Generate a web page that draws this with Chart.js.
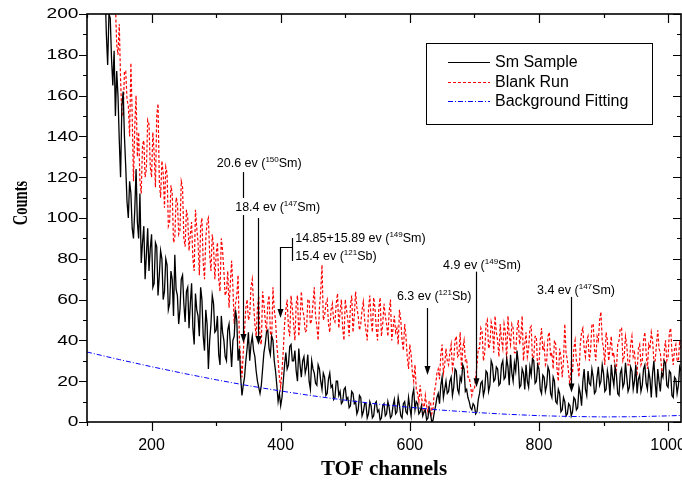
<!DOCTYPE html>
<html>
<head>
<meta charset="utf-8">
<script src="https://cdn.jsdelivr.net/npm/chart.js@4.4.1/dist/chart.umd.min.js"></script>
<style>
  html, body { margin: 0; padding: 0; background: #fff; }
</style>
</head>
<body>
<canvas id="tof-chart" width="682" height="488"></canvas>
<script>
const ctx = document.getElementById("tof-chart");

// spectra are listed every 2 TOF channels, starting at channel 100
const firstChannel = 100;
const channelStep = 2;

const smSample = [
  340, 335, 320, 315, 300, 290, 280, 270, 262, 250, 240, 232, 225, 205, 212, 190, 175, 200, 198, 178,
  165, 182, 150, 172, 160, 138, 120, 155, 162, 140, 125, 108, 100, 118, 112, 95, 90, 104, 124, 98,
  90, 112, 78, 88, 96, 70, 82, 95, 74, 85, 92, 66, 68, 88, 86, 62, 72, 84, 80, 60,
  64, 80, 77, 55, 58, 74, 70, 52, 82, 65, 62, 48, 55, 70, 72, 58, 49, 64, 66, 46,
  58, 68, 46, 38, 63, 55, 52, 42, 66, 60, 42, 35, 55, 48, 26, 40, 48, 62, 58, 44,
  45, 52, 33, 28, 52, 44, 40, 32, 30, 45, 48, 38, 27, 40, 42, 55, 50, 30, 36, 22,
  13, 18, 22, 30, 36, 44, 30, 38, 42, 35, 32, 25, 20, 17, 14, 18, 26, 34, 38, 44,
  45, 36, 33, 42, 40, 30, 25, 18, 10, 14, 8, 12, 20, 28, 34, 26, 28, 37, 38, 30,
  30, 35, 25, 20, 36, 28, 22, 30, 32, 24, 27, 33, 20, 16, 30, 26, 24, 19, 18, 28,
  26, 20, 16, 24, 22, 13, 14, 21, 24, 17, 18, 11, 12, 20, 20, 13, 15, 9, 10, 16,
  17, 11, 12, 7, 8, 15, 14, 9, 10, 4, 6, 13, 12, 3, 5, 9, 9, 2, 4, 10,
  8, 2, 3, 9, 10, 5, 6, 1, 2, 8, 9, 3, 4, 10, 7, 2, 3, 8, 11, 4,
  5, 12, 8, 3, 2, 9, 10, 5, 4, 12, 7, 3, 13, 16, 6, 10, 9, 4, 5, 8,
  3, 5, 6, 1, 2, 7, 4, 0, 1, 5, 8, 12, 14, 9, 18, 22, 12, 16, 20, 14,
  15, 20, 22, 13, 17, 26, 25, 16, 14, 22, 20, 28, 26, 15, 16, 12, 10, 7, 6, 9,
  8, 4, 5, 11, 14, 19, 20, 13, 16, 25, 24, 15, 18, 30, 28, 20, 21, 27, 26, 18,
  19, 28, 30, 21, 22, 31, 27, 18, 33, 24, 20, 29, 25, 35, 29, 17, 18, 26, 24, 16,
  28, 20, 17, 27, 23, 31, 30, 19, 20, 28, 26, 16, 14, 23, 22, 15, 18, 27, 25, 14,
  12, 22, 20, 10, 9, 16, 14, 5, 6, 12, 10, 3, 4, 9, 8, 3, 5, 12, 11, 6,
  7, 17, 14, 8, 20, 26, 16, 13, 25, 19, 18, 26, 22, 14, 15, 22, 27, 18, 20, 28,
  24, 15, 16, 25, 21, 13, 28, 22, 18, 27, 23, 14, 13, 24, 26, 17, 19, 29, 22, 15,
  17, 27, 25, 16, 20, 28, 14, 21, 23, 15, 18, 26, 28, 19, 16, 25, 21, 12, 24, 30,
  19, 12, 26, 20, 15, 24, 22, 30, 29, 18, 17, 25, 24, 13, 12, 22, 21, 14, 18, 27,
  25
];

const blankRun = [
  410, 400, 390, 380, 370, 360, 350, 340, 330, 320, 310, 300, 290, 285, 278, 270, 262, 255, 248, 240,
  230, 215, 205, 185, 180, 195, 168, 150, 150, 172, 172, 158, 155, 140, 176, 150, 118, 145, 160, 130,
  142, 118, 112, 136, 138, 120, 124, 148, 146, 125, 120, 142, 132, 115, 150, 156, 118, 110, 128, 122,
  105, 125, 122, 96, 98, 116, 112, 88, 90, 110, 108, 92, 94, 118, 115, 90, 86, 104, 100, 84,
  92, 98, 80, 74, 104, 95, 88, 72, 96, 100, 78, 70, 90, 98, 100, 82, 74, 92, 86, 70,
  82, 88, 70, 64, 90, 84, 74, 62, 64, 74, 56, 68, 79, 66, 48, 58, 62, 72, 40, 30,
  22, 34, 45, 56, 60, 50, 52, 66, 70, 58, 48, 42, 56, 62, 40, 38, 64, 58, 50, 44,
  58, 62, 44, 40, 66, 55, 50, 38, 30, 22, 17, 25, 35, 48, 55, 60, 46, 42, 62, 56,
  48, 40, 58, 62, 42, 50, 64, 55, 52, 44, 45, 60, 60, 48, 50, 58, 66, 52, 47, 40,
  56, 64, 77, 50, 52, 58, 60, 48, 44, 55, 58, 50, 49, 58, 63, 46, 54, 60, 46, 40,
  60, 55, 50, 42, 57, 62, 44, 52, 64, 56, 52, 45, 48, 55, 59, 50, 45, 40, 55, 62,
  50, 44, 61, 56, 46, 40, 56, 61, 42, 48, 58, 52, 48, 42, 54, 60, 40, 46, 52, 44,
  46, 38, 55, 50, 40, 35, 48, 42, 32, 26, 38, 33, 24, 20, 28, 16, 14, 10, 18, 12,
  9, 6, 13, 8, 5, 10, 10, 4, 7, 15, 18, 24, 26, 21, 33, 38, 24, 28, 36, 30,
  28, 34, 38, 26, 30, 40, 42, 32, 33, 44, 26, 36, 40, 30, 31, 22, 22, 18, 13, 16,
  16, 22, 28, 36, 36, 46, 44, 30, 34, 48, 50, 36, 38, 49, 46, 34, 52, 44, 40, 32,
  48, 40, 36, 48, 44, 30, 52, 42, 38, 48, 46, 34, 34, 45, 50, 38, 42, 52, 30, 38,
  44, 32, 36, 46, 47, 30, 32, 42, 42, 26, 28, 40, 46, 35, 38, 28, 30, 42, 44, 32,
  34, 26, 40, 38, 26, 20, 36, 32, 22, 30, 48, 34, 30, 24, 18, 28, 24, 36, 40, 30,
  28, 22, 38, 44, 46, 36, 32, 40, 42, 30, 35, 48, 48, 36, 30, 42, 40, 50, 54, 40,
  36, 28, 44, 40, 30, 36, 42, 32, 34, 24, 26, 38, 40, 46, 46, 30, 32, 42, 38, 28,
  28, 38, 42, 32, 34, 26, 24, 36, 38, 28, 30, 40, 44, 34, 26, 38, 36, 44, 40, 30,
  30, 38, 45, 36, 34, 26, 22, 34, 40, 30, 32, 44, 46, 34, 28, 36, 38, 30, 30, 40,
  36
];

// smooth background fit
const fitChannels = [100, 150, 200, 250, 300, 350, 400, 450, 500, 550, 600, 650, 700, 750, 800, 850, 900, 950, 1000, 1020];
const fitCounts = [34.3, 30.6, 27.1, 23.8, 20.7, 17.8, 15.2, 12.8, 10.7, 8.8, 7.2, 5.8, 4.7, 3.8, 3.1, 2.7, 2.5, 2.6, 3.0, 3.2];

const seriesNames = ["Sm Sample", "Blank Run", "Background Fitting"];
const xTicks = [200, 400, 600, 800, 1000];
const yTicks = [0, 20, 40, 60, 80, 100, 120, 140, 160, 180, 200];

// resonance dips: label text, line channel and the count range of its marker
const resonances = [
  { pre: "20.6 ev (", iso: "150", post: "Sm)", tx: 301, ty: 125, ch: 342, from: 122.5, to: 38.7, mask: false },
  { pre: "18.4 ev (", iso: "147", post: "Sm)", tx: 329.5, ty: 103.4, ch: 365, from: 100, to: 37.7, mask: true },
  { pre: "6.3 ev (", iso: "121", post: "Sb)", tx: 580, ty: 59.8, ch: 627, from: 55.9, to: 23 },
  { pre: "4.9 ev (", iso: "149", post: "Sm)", tx: 651.5, ty: 75, ch: 703, from: 73.7, to: 17 },
  { pre: "3.4 ev (", iso: "147", post: "Sm)", tx: 797, ty: 62.7, ch: 849, from: 61.3, to: 14.4 }
];
// two overlapping dips near channel 400 share one bracketed marker
const bracketLabels = [
  { pre: "14.85+15.89 ev (", iso: "149", post: "Sm)", tx: 422.5, ty: 88.4 },
  { pre: "15.4 ev (", iso: "121", post: "Sb)", tx: 422.5, ty: 79.4 }
];
const bracket = { ch: 399, barCh: 418, top: 90.2, bottom: 78.9, join: 85.8, to: 51 };

const channelsFor = (counts) => counts.map((_, i) => firstChannel + i * channelStep);
const toPoints = (xs, ys) => xs.map((x, i) => ({ x: x, y: ys[i] }));

const sans = '"Liberation Sans", Arial, sans-serif';
const serif = '"Liberation Serif", "Times New Roman", serif';

function drawIsotopeLabel(c, lab, x, y) {
  c.font = "12.5px " + sans;
  c.textAlign = "left";
  c.textBaseline = "alphabetic";
  c.fillText(lab.pre, x, y);
  let px = x + c.measureText(lab.pre).width;
  c.font = "8px " + sans;
  c.fillText(lab.iso, px, y - 5);
  px += c.measureText(lab.iso).width;
  c.font = "12.5px " + sans;
  c.fillText(lab.post, px, y);
  return px + c.measureText(lab.post).width - x;
}

function arrowHead(c, x, y) {
  c.beginPath();
  c.moveTo(x, y);
  c.lineTo(x - 3, y - 9);
  c.lineTo(x + 3, y - 9);
  c.closePath();
  c.fill();
}

const annotations = {
  id: "annotations",
  afterDatasetsDraw(chart) {
    const c = chart.ctx;
    const { x, y } = chart.scales;
    c.save();
    c.strokeStyle = "#000";
    c.fillStyle = "#000";
    c.lineWidth = 1.2;

    resonances.forEach((r) => {
      const px = Math.round(x.getPixelForValue(r.ch)) + 0.5;
      const y0 = y.getPixelForValue(r.from);
      const y1 = y.getPixelForValue(r.to);
      c.beginPath();
      c.moveTo(px, y0);
      c.lineTo(px, y1 - 6);
      c.stroke();
      arrowHead(c, px, y1);
    });

    resonances.forEach((r) => {
      const tx = x.getPixelForValue(r.tx);
      const ty = y.getPixelForValue(r.ty);
      if (r.mask) {
        c.fillStyle = "#fff";
        c.fillRect(tx - 2, ty - 13, 92, 17);
        c.fillStyle = "#000";
      }
      drawIsotopeLabel(c, r, tx, ty);
    });

    // bracket joining the two labels, then the shared arrow
    const bx = Math.round(x.getPixelForValue(bracket.barCh)) + 0.5;
    const ax = Math.round(x.getPixelForValue(bracket.ch)) + 0.5;
    const jy = Math.round(y.getPixelForValue(bracket.join)) + 0.5;
    c.beginPath();
    c.moveTo(bx, y.getPixelForValue(bracket.top));
    c.lineTo(bx, y.getPixelForValue(bracket.bottom));
    c.moveTo(bx, jy);
    c.lineTo(ax, jy);
    c.lineTo(ax, y.getPixelForValue(bracket.to) - 6);
    c.stroke();
    arrowHead(c, ax, y.getPixelForValue(bracket.to));
    bracketLabels.forEach((b) => {
      drawIsotopeLabel(c, b, x.getPixelForValue(b.tx), y.getPixelForValue(b.ty));
    });
    c.restore();
  }
};

const frame = {
  id: "frame",
  afterDraw(chart) {
    const c = chart.ctx;
    const a = chart.chartArea;
    const { x, y } = chart.scales;
    c.save();
    c.strokeStyle = "#000";
    c.lineWidth = 1.6;
    c.strokeRect(a.left, a.top, a.right - a.left, a.bottom - a.top);

    // major ticks every 200 / 20, minor every 100 / 10
    c.lineWidth = 1.2;
    c.beginPath();
    for (let v = x.min; v <= x.max; v += 100) {
      const px = Math.round(x.getPixelForValue(v)) + 0.5;
      const len = v % 200 === 0 ? 9 : 4;
      c.moveTo(px, a.bottom);
      c.lineTo(px, a.bottom + len);
      c.moveTo(px, a.top);
      c.lineTo(px, a.top + len);
    }
    for (let v = y.min; v <= y.max; v += 10) {
      const py = Math.round(y.getPixelForValue(v)) + 0.5;
      const len = v % 20 === 0 ? 8 : 4;
      c.moveTo(a.left, py);
      c.lineTo(a.left - len, py);
      c.moveTo(a.right, py);
      c.lineTo(a.right - len, py);
    }
    c.stroke();

    // y tick labels, drawn a little wide
    c.fillStyle = "#000";
    c.font = "14px " + sans;
    c.textAlign = "right";
    c.textBaseline = "middle";
    yTicks.forEach((v) => {
      c.save();
      c.translate(a.left - 8.5, y.getPixelForValue(v) + 0.5);
      c.scale(1.37, 1);
      c.fillText(String(v), 0, 0);
      c.restore();
    });

    // axis titles
    c.font = "bold 21px " + serif;
    c.textAlign = "center";
    c.textBaseline = "alphabetic";
    c.fillText("TOF channels", (a.left + a.right) / 2, 475);

    c.save();
    c.translate(27, 203);
    c.rotate(-Math.PI / 2);
    c.scale(1, 1.5);
    c.font = "bold 14.5px " + serif;
    c.fillText("Counts", 0, 0);
    c.restore();

    // legend box
    const lx = 426, ly = 43, lw = 226, lh = 81;
    c.lineWidth = 1;
    c.strokeRect(lx + 0.5, ly + 0.5, lw, lh);
    const rows = [62, 82, 101];
    chart.data.datasets.forEach((ds, i) => {
      const ry = rows[i] + 0.5;
      c.save();
      c.strokeStyle = ds.borderColor;
      c.lineWidth = 1;
      c.setLineDash(ds.borderDash || []);
      c.beginPath();
      c.moveTo(448, ry);
      c.lineTo(490, ry);
      c.stroke();
      c.restore();
      c.font = "16px " + sans;
      c.textAlign = "left";
      c.textBaseline = "middle";
      c.fillText(ds.label, 495, rows[i] + 1);
    });
    c.restore();
  }
};

new Chart(ctx, {
  type: "line",
  data: {
    datasets: [
      {
        label: seriesNames[0],
        data: toPoints(channelsFor(smSample), smSample),
        borderColor: "#000000",
        borderWidth: 1.3,
        order: 1,
      },
      {
        label: seriesNames[1],
        data: toPoints(channelsFor(blankRun), blankRun),
        borderColor: "#ff0000",
        borderWidth: 1.2,
        borderDash: [3, 2],
        order: 2,
      },
      {
        label: seriesNames[2],
        data: toPoints(fitChannels, fitCounts),
        borderColor: "#0000ff",
        borderWidth: 1,
        borderDash: [5, 2, 1, 2],
        order: 0,
      },
    ],
  },
  options: {
    responsive: false,
    animation: false,
    devicePixelRatio: 1,
    elements: {
      point: { radius: 0 },
      line: { tension: 0 },
    },
    layout: {
      padding: { top: 14, right: 1, left: 0, bottom: 0 },
    },
    scales: {
      x: {
        type: "linear",
        min: 100,
        max: 1020,
        afterBuildTicks: (s) => {
          s.ticks = xTicks.map((v) => ({ value: v }));
        },
        afterFit: (s) => {
          s.height = 66;
          s.paddingLeft = 0;
          s.paddingRight = 0;
        },
        grid: { display: false, drawTicks: false },
        border: { display: false },
        ticks: {
          color: "#000",
          padding: 14,
          maxRotation: 0,
          font: { family: sans, size: 16 },
          callback: (v) => String(v),
        },
      },
      y: {
        type: "linear",
        min: 0,
        max: 200,
        afterFit: (s) => {
          s.width = 87;
          s.paddingTop = 0;
          s.paddingBottom = 0;
        },
        grid: { display: false, drawTicks: false },
        border: { display: false },
        ticks: { display: false },
      },
    },
    plugins: {
      legend: { display: false },
      tooltip: { enabled: false },
    },
  },
  plugins: [annotations, frame],
});
</script>
</body>
</html>
